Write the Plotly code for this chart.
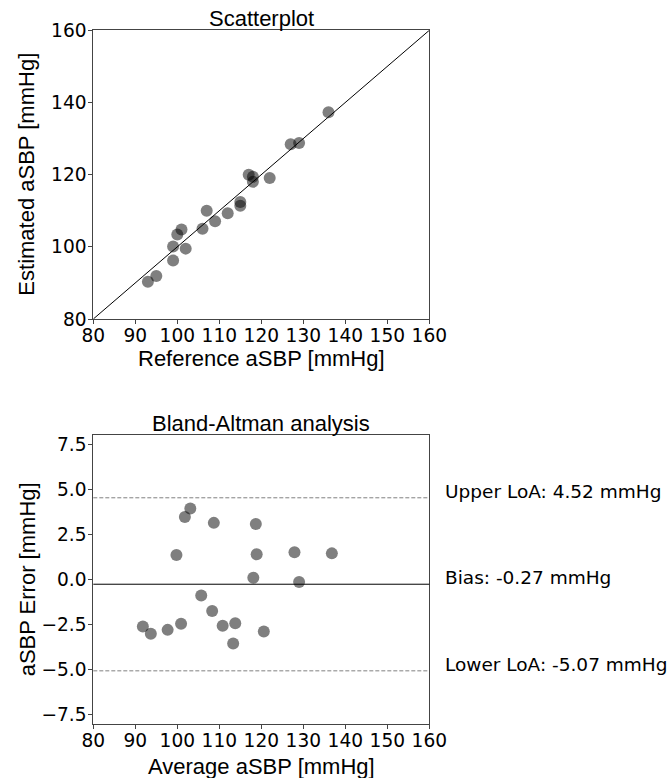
import plotly.graph_objects as go

# ---- data ----
ref_sbp = [93, 95, 99, 99, 100, 101, 102, 106, 107, 109, 112, 115, 115, 117, 118, 118, 122, 127, 129, 136]
est_sbp = [90.3, 91.9, 96.2, 100.1, 103.4, 104.8, 99.5, 105.0, 110.0, 107.1, 109.3, 112.4, 111.4, 120.0, 119.4, 118.0, 119.1, 128.4, 128.8, 137.3]

ba_mean = [91.8, 93.7, 97.7, 99.8, 100.9, 101.8, 103.1, 105.7, 108.3, 108.7, 110.8, 113.3, 113.8, 118.1, 118.7, 118.9, 120.6, 127.9, 129.0, 136.8]
ba_diff = [-2.61, -3.02, -2.80, 1.35, -2.46, 3.46, 3.93, -0.89, -1.76, 3.13, -2.57, -3.56, -2.43, 0.09, 3.07, 1.39, -2.89, 1.50, -0.15, 1.44]

bias = -0.27
upper_loa = 4.52
lower_loa = -5.07

x_ticks = [80, 90, 100, 110, 120, 130, 140, 150, 160]
y_ticks_top = [80, 100, 120, 140, 160]
y_ticks_ba = [-7.5, -5.0, -2.5, 0.0, 2.5, 5.0, 7.5]
identity = [80, 160]

W, H = 671, 778
TICK_FONT = dict(family="DejaVu Sans", size=18.6, color="black")
TITLE_FONT = dict(family="Liberation Sans, Arial", size=22, color="black")
ANN_FONT = dict(family="DejaVu Sans", size=18.5, color="black")
MARKER = dict(size=12, color="rgba(0,0,0,0.5)", line=dict(width=0))

fig = go.Figure()

fig.add_trace(go.Scatter(x=identity, y=identity, mode="lines",
                         line=dict(color="black", width=1), xaxis="x", yaxis="y",
                         showlegend=False, hoverinfo="skip"))
fig.add_trace(go.Scatter(x=ref_sbp, y=est_sbp, mode="markers", marker=MARKER,
                         xaxis="x", yaxis="y", showlegend=False))
fig.add_trace(go.Scatter(x=ba_mean, y=ba_diff, mode="markers", marker=MARKER,
                         xaxis="x2", yaxis="y2", showlegend=False))

# reference lines on Bland-Altman plot
for val, dash in [(upper_loa, "4px,2px"), (lower_loa, "4px,2px"), (bias, "solid")]:
    fig.add_shape(type="line", xref="x2 domain", yref="y2", x0=0, x1=1, y0=val, y1=val,
                  line=dict(color="gray" if dash != "solid" else "black", width=1, dash=dash))

axis_common = dict(showgrid=False, zeroline=False, showline=True, mirror=True,
                   linecolor="#444", linewidth=1, ticks="outside", ticklen=4,
                   tickcolor="#444", tickfont=TICK_FONT, automargin=False)

xd = [93.3 / W, 429.3 / W]
fig.update_layout(
    template="none",
    width=W, height=H, margin=dict(l=0, r=0, t=0, b=0, autoexpand=False),
    plot_bgcolor="white", paper_bgcolor="white",
    xaxis=dict(range=[80, 160], tickvals=x_ticks, domain=xd, anchor="y",
               ticklabelstandoff=-4, **axis_common),
    yaxis=dict(range=[80, 160], tickvals=y_ticks_top, domain=[1 - 319 / H, 1 - 30.3 / H],
               anchor="x", ticklabelstandoff=-2, **axis_common),
    xaxis2=dict(range=[80, 160], tickvals=x_ticks, domain=xd, anchor="y2",
                ticklabelstandoff=-4, **axis_common),
    yaxis2=dict(range=[-8, 8], tickvals=y_ticks_ba, tickformat=".1f",
                domain=[1 - 723.7 / H, 1 - 435 / H], anchor="x2",
                ticklabelstandoff=-2, **axis_common),
)

def ann(text, xp, yp, **kw):
    d = dict(text=text, x=xp / W, y=1 - yp / H, xref="paper", yref="paper",
             showarrow=False, font=TITLE_FONT, xanchor="center", yanchor="middle")
    d.update(kw)
    fig.add_annotation(**d)

xc = (93.3 + 429.3) / 2
ann("Scatterplot", xc, 19)
ann("Bland-Altman analysis", xc, 424)
ann("Reference aSBP [mmHg]", xc, 359)
ann("Average aSBP [mmHg]", xc, 766)
ann("Estimated aSBP [mmHg]", 27, (30.3 + 319) / 2, textangle=-90)
ann("aSBP Error [mmHg]", 27, (435 + 723.7) / 2, textangle=-90)

for label, val in [("Upper LoA: %.2f mmHg" % upper_loa, upper_loa),
                   ("Bias: %.2f mmHg" % bias, bias),
                   ("Lower LoA: %.2f mmHg" % lower_loa, lower_loa)]:
    fig.add_annotation(text=label, x=443.3 / W, xref="paper", y=val, yref="y2",
                       xanchor="left", yanchor="bottom", yshift=-6, showarrow=False,
                       font=ANN_FONT)

fig.write_html("out.html")
